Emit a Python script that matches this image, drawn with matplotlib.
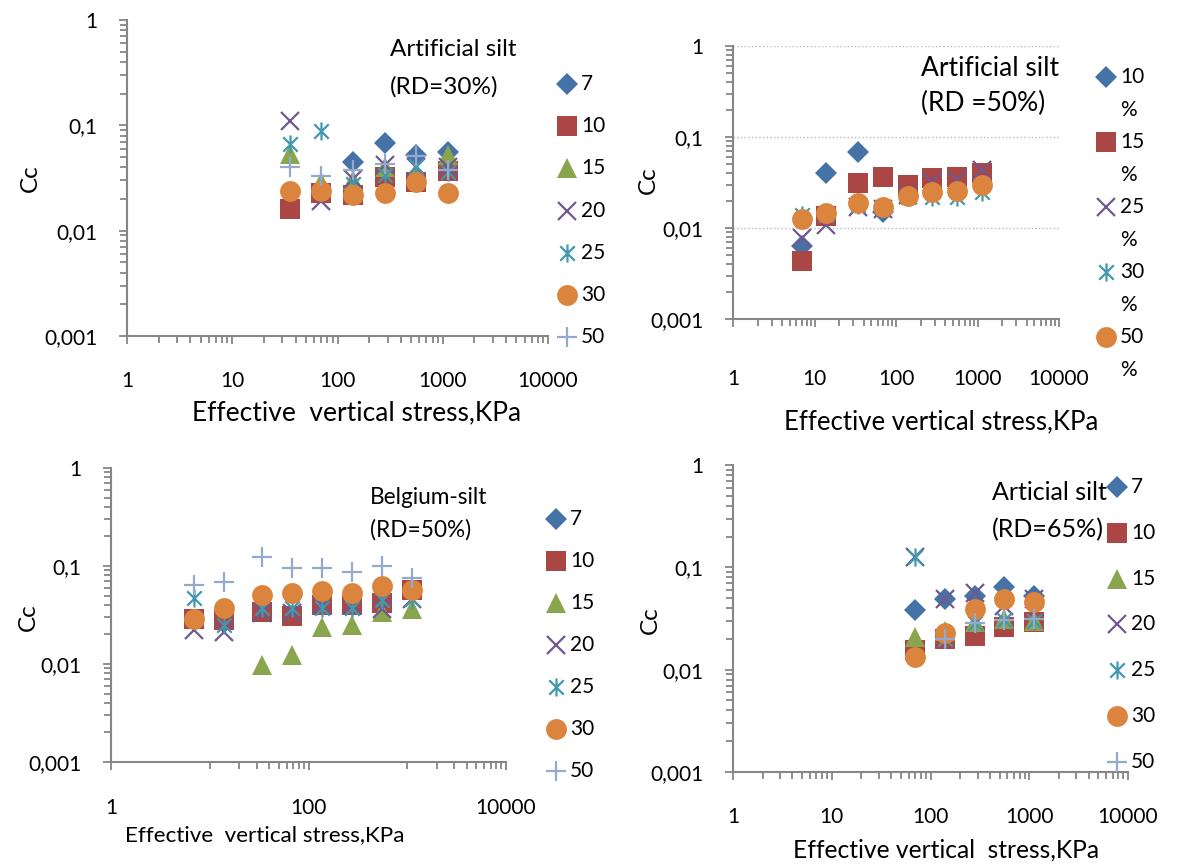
import numpy as np
import matplotlib
matplotlib.use("Agg")
import matplotlib.pyplot as plt
from matplotlib.lines import Line2D
from matplotlib.path import Path
from matplotlib.ticker import FixedLocator, FixedFormatter, NullFormatter

plt.rcParams['font.family'] = ['Lato', 'DejaVu Sans']

nan = np.nan

# ---- data ----
series = ['7', '10', '15', '20', '25', '30', '50']

p1_stress = [35, 70, 140, 280, 560, 1120]
p1_cc = {
    '7':  [nan, nan, 0.045, 0.068, 0.052, 0.056],
    '10': [0.016, 0.023, 0.022, 0.032, 0.029, 0.037],
    '15': [0.053, 0.029, 0.030, 0.040, 0.036, 0.052],
    '20': [0.110, 0.019, 0.031, 0.042, 0.040, 0.040],
    '25': [0.066, 0.088, 0.028, 0.034, 0.041, 0.036],
    '30': [0.024, 0.024, 0.022, 0.023, 0.029, 0.023],
    '50': [0.040, 0.033, 0.038, 0.043, 0.051, 0.038],
}

p2_series = ['10', '15', '25', '30', '50']
p2_stress = [7, 14, 34, 70, 140, 280, 560, 1120]
p2_cc = {
    '10': [0.0063, 0.040, 0.069, 0.015, nan, nan, nan, nan],
    '15': [0.0043, 0.0136, 0.031, 0.0366, 0.0297, 0.035, 0.0366, 0.0405],
    '25': [0.0078, 0.0108, 0.017, 0.016, 0.023, 0.032, 0.034, 0.043],
    '30': [0.014, 0.014, 0.018, 0.017, 0.022, 0.022, 0.022, 0.025],
    '50': [0.0125, 0.0145, 0.019, 0.0171, 0.0225, 0.0247, 0.0255, 0.0297],
}

p3_stress = [7, 14, 34, 68, 138, 277, 559, 1120]
p3_cc = {
    '7':  [nan] * 8,
    '10': [0.029, 0.028, 0.034, 0.031, 0.040, 0.040, 0.042, 0.057],
    '15': [nan, nan, 0.0098, 0.0124, 0.0237, 0.025, 0.034, 0.036],
    '20': [0.022, 0.021, 0.033, 0.033, 0.040, 0.040, 0.036, 0.046],
    '25': [0.047, 0.025, 0.037, 0.037, 0.037, 0.037, 0.045, 0.046],
    '30': [0.029, 0.037, 0.0506, 0.053, 0.056, 0.0526, 0.0625, 0.057],
    '50': [0.064, 0.068, 0.123, 0.095, 0.095, 0.0875, 0.100, 0.075],
}

p4_stress = [70, 140, 280, 560, 1120]
p4_cc = {
    '7':  [0.038, 0.0486, 0.052, 0.0637, 0.053],
    '10': [0.0156, 0.020, 0.0213, 0.026, 0.029],
    '15': [0.021, 0.024, 0.029, 0.031, 0.030],
    '20': [0.127, 0.0486, 0.0557, 0.042, 0.049],
    '25': [0.127, 0.020, 0.0283, 0.0305, 0.030],
    '30': [0.0134, 0.023, 0.0388, 0.0486, 0.046],
    '50': [nan, 0.020, 0.0283, 0.0305, 0.031],
}

y_ticks = [0.001, 0.01, 0.1, 1]
y_labels = ['0,001', '0,01', '0,1', '1']
x_ticks = [1, 10, 100, 1000, 10000]
x_labels = ['1', '10', '100', '1000', '10000']

# ---- styles ----
W, H = 1192, 865
ASTER = Path([(-1, -1), (1, 1), (-1, 1), (1, -1), (0, -1.25), (0, 1.25)],
             [Path.MOVETO, Path.LINETO] * 3)
STYLE = {
    '7':  dict(marker='D', color='#4572A7', ms=11, filled=True),
    '10': dict(marker='s', color='#AA4643', ms=14, filled=True),
    '15': dict(marker='^', color='#89A54E', ms=15, filled=True),
    '20': dict(marker='x', color='#71588F', ms=13, filled=False),
    '25': dict(marker=ASTER, color='#4198AF', ms=13, filled=False),
    '30': dict(marker='o', color='#DB843D', ms=15, filled=True),
    '50': dict(marker='+', color='#93A9CF', ms=15, filled=False),
}
# colour keys for the 2nd panel reuse the first five styles
P2_STYLE = dict(zip(p2_series, ['7', '10', '20', '25', '30']))
GREY = '#868686'
FS = 15      # numbers
FT = 17.5    # words


def fx(px):
    return px / W


def fy(py):
    return 1 - py / H


def mk_kwargs(key):
    st = STYLE[key]
    kw = dict(linestyle='none', marker=st['marker'], markersize=st['ms'], color=st['color'])
    if st['filled']:
        kw.update(markeredgewidth=0)
    else:
        kw.update(markerfacecolor='none', markeredgewidth=1.6)
    return kw


def make_axes(left, top, right, bottom):
    ax = fig.add_axes([fx(left), fy(bottom), fx(right - left), (bottom - top) / H])
    ax.set_xscale('log')
    ax.set_yscale('log')
    ax.set_xlim(1, 10000)
    ax.set_ylim(0.001, 1)
    for s in ['top', 'right']:
        ax.spines[s].set_visible(False)
    for s in ['left', 'bottom']:
        ax.spines[s].set_color(GREY)
        ax.spines[s].set_linewidth(1.5)
    ax.yaxis.set_major_locator(FixedLocator(y_ticks))
    ax.yaxis.set_major_formatter(FixedFormatter(y_labels))
    minors = [m * 10.0 ** e for e in range(-3, 0) for m in range(2, 10)]
    ax.yaxis.set_minor_locator(FixedLocator(minors))
    ax.yaxis.set_minor_formatter(NullFormatter())
    ax.tick_params(which='both', direction='out', color=GREY, width=1.3, labelsize=FS)
    ax.tick_params(which='major', length=6)
    ax.tick_params(which='minor', length=5)
    ax.tick_params(axis='y', which='major', pad=15)
    return ax


def set_x(ax, ticks, labels, minors, pad):
    ax.xaxis.set_major_locator(FixedLocator(ticks))
    ax.xaxis.set_major_formatter(FixedFormatter(labels))
    ax.xaxis.set_minor_locator(FixedLocator(minors))
    ax.xaxis.set_minor_formatter(NullFormatter())
    ax.tick_params(axis='x', which='major', pad=pad)


def key(x0, ys, keys, labels, two_line=False):
    for y, k, lab in zip(ys, keys, labels):
        fig.add_artist(Line2D([fx(x0)], [fy(y)], transform=fig.transFigure, **mk_kwargs(k)))
        fig.text(fx(x0 + 14), fy(y), lab, fontsize=FS, va='center', ha='left')
        if two_line:
            fig.text(fx(x0 + 14), fy(y + 33), '%', fontsize=FS, va='center', ha='left')


def labels(ax, xl, xpos, ypos, size):
    ax.set_xlabel(xl, fontsize=size)
    ax.xaxis.set_label_coords(fx(xpos[0]), fy(xpos[1]), transform=fig.transFigure)
    ax.set_ylabel('Cc', fontsize=FT)
    ax.yaxis.set_label_coords(fx(ypos[0]), fy(ypos[1]), transform=fig.transFigure)
    ax.xaxis.label.set_va('center')
    ax.yaxis.label.set_va('center')


def note(x, y, text, size):
    fig.text(fx(x), fy(y), text, fontsize=size, va='center')


fig = plt.figure(figsize=(W / 100, H / 100), dpi=100)
std_minor = [m * 10.0 ** e for e in range(0, 4) for m in range(2, 10)]

# panel 1
ax1 = make_axes(127, 20, 548, 336)
set_x(ax1, x_ticks, x_labels, std_minor, 19)
for k in series:
    ax1.plot(p1_stress, p1_cc[k], clip_on=False, **mk_kwargs(k))
labels(ax1, 'Effective  vertical stress,KPa', (357, 413), (30, 178), 19)
note(390, 50, 'Artificial silt', 17.5)
note(390, 87, '(RD=30%)', 17.5)
key(567, [84 + 42.2 * i for i in range(7)], series, series)

# panel 2
ax2 = make_axes(733, 46, 1059, 319)
set_x(ax2, x_ticks, x_labels, std_minor, 30)
ax2.yaxis.grid(True, which='major', linestyle=':', color='#A9BCD3', linewidth=1)
ax2.set_axisbelow(True)
for k in p2_series:
    ax2.plot(p2_stress, p2_cc[k], clip_on=False, **mk_kwargs(P2_STYLE[k]))
labels(ax2, 'Effective vertical stress,KPa', (941, 422), (648, 180), 18.5)
note(921, 68, 'Artificial silt', 19)
note(921, 103, '(RD =50%)', 19)
key(1106, [77 + 65 * i for i in range(5)], [P2_STYLE[k] for k in p2_series], p2_series,
    two_line=True)

# panel 3
ax3 = make_axes(111, 468, 506, 762)
p3_minor = [m * 10.0 ** e for e in (1, 3) for m in range(1, 10)]
set_x(ax3, [1, 100, 10000], ['1', '100', '10000'], p3_minor, 20)
for k in series:
    ax3.plot(p3_stress, p3_cc[k], clip_on=False, **mk_kwargs(k))
labels(ax3, 'Effective  vertical stress,KPa', (265, 835), (28, 617), 16.2)
note(370, 497, 'Belgium-silt', 16.3)
note(370, 530, '(RD=50%)', 16.3)
key(556, [519 + 42 * i for i in range(7)], series, series)

# panel 4
ax4 = make_axes(733, 465, 1128, 772)
set_x(ax4, x_ticks, x_labels, std_minor, 19)
for k in series:
    ax4.plot(p4_stress, p4_cc[k], clip_on=False, **mk_kwargs(k))
labels(ax4, 'Effective vertical  stress,KPa', (946, 850), (650, 620), 17.7)
note(992, 493, 'Articial silt', 18)
note(992, 530, '(RD=65%)', 18)
key(1117, [487 + 45.8 * i for i in range(7)], series, series)

fig.savefig('out.png', dpi=100)
